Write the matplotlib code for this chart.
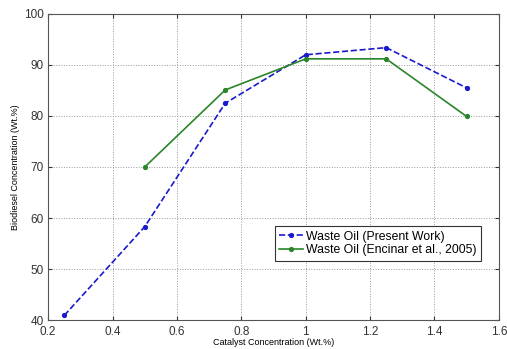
import matplotlib
matplotlib.use("Agg")
import matplotlib.pyplot as plt

plt.rcParams["font.family"] = ["Liberation Sans", "DejaVu Sans"]

present_x = [0.25, 0.5, 0.75, 1.0, 1.25, 1.5]
present_y = [40.9, 58.3, 82.5, 92.0, 93.4, 85.5]
encinar_x = [0.5, 0.75, 1.0, 1.25, 1.5]
encinar_y = [70.0, 85.1, 91.2, 91.2, 79.9]

fig = plt.figure(figsize=(5.07, 3.49), dpi=100)
ax = fig.add_axes([0.095, 0.083, 0.889, 0.877])

ax.plot(present_x, present_y, "--", color="#1a1acc", marker=".", markersize=5.5,
        lw=1.2, label="Waste Oil (Present Work)")
ax.plot(encinar_x, encinar_y, "-", color="#2a852a", marker=".", markersize=5.5,
        lw=1.2, label="Waste Oil (Encinar et al., 2005)")

ax.set_xlim(0.2, 1.6)
ax.set_ylim(40, 100)
ax.set_xticks([0.2, 0.4, 0.6, 0.8, 1.0, 1.2, 1.4, 1.6])
ax.set_xticklabels(["0.2", "0.4", "0.6", "0.8", "1", "1.2", "1.4", "1.6"])
ax.set_yticks([40, 50, 60, 70, 80, 90, 100])
ax.tick_params(direction="in", top=True, right=True, labelsize=8.5, length=3, colors="#333333")
ax.tick_params(axis="x", pad=4)
ax.tick_params(axis="y", pad=3)
ax.grid(True, linestyle=":", color="#999999", lw=0.7)
for s in ax.spines.values():
    s.set_color("#555555")
    s.set_linewidth(0.8)

ax.set_xlabel("Catalyst Concentration (Wt.%)", fontsize=6.5, labelpad=0)
ax.set_ylabel("Biodiesel Concentration (Wt.%)", fontsize=6.5, labelpad=3)

leg = ax.legend(loc="center right", bbox_to_anchor=(0.973, 0.25), fontsize=8.8,
                fancybox=False, framealpha=1, edgecolor="#333333",
                handlelength=2.0, handletextpad=0.2, borderpad=0.35, labelspacing=0.15)
leg.get_frame().set_linewidth(0.8)

fig.savefig("out.png", dpi=100)
